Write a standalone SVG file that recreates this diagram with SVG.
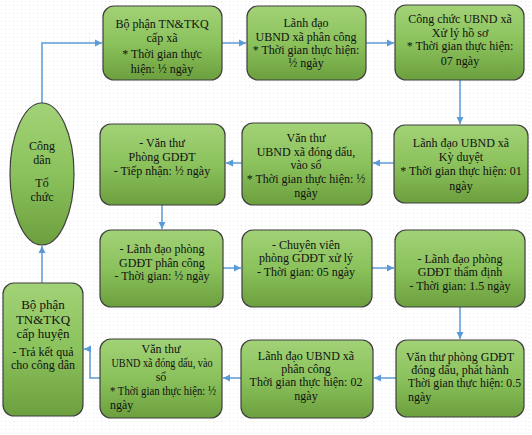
<svg xmlns="http://www.w3.org/2000/svg" width="532" height="435" viewBox="0 0 532 435">
<defs>
<pattern id="dots" width="4" height="4" patternUnits="userSpaceOnUse">
<rect width="4" height="4" fill="#ffffff"/>
<rect x="1" y="1" width="1" height="1" fill="#e4e8ec"/>
</pattern>
<linearGradient id="g" x1="0" y1="0" x2="0" y2="1">
<stop offset="0" stop-color="#a2d277"/>
<stop offset="0.5" stop-color="#8bc25c"/>
<stop offset="1" stop-color="#6c9f3e"/>
</linearGradient>
<marker id="arr" markerWidth="8" markerHeight="8" refX="7" refY="4" orient="auto" markerUnits="userSpaceOnUse">
<path d="M0,0.5 L7,4 L0,7.5 Z" fill="#5b9bd5"/>
</marker>
</defs>
<style>
.box{fill:url(#g);stroke:#3f3f3f;stroke-width:1.2}
.t{font-family:"Liberation Serif","Times New Roman",serif;font-size:12px;fill:#111;text-anchor:middle}
.l{text-anchor:start}
.c{fill:none;stroke:#5b9bd5;stroke-width:1.5;marker-end:url(#arr)}
</style>
<rect width="532" height="435" fill="url(#dots)"/>

<g id="connectors">
<path class="c" d="M42 103 V43 H102"/>
<path class="c" d="M222 43 H246"/>
<path class="c" d="M366 43 H394"/>
<path class="c" d="M460 80 V124"/>
<path class="c" d="M394 163 H373"/>
<path class="c" d="M242 163 H226"/>
<path class="c" d="M162 205 V229"/>
<path class="c" d="M223 268 H241"/>
<path class="c" d="M372 268 H394"/>
<path class="c" d="M460 307 V339"/>
<path class="c" d="M396 378 H374"/>
<path class="c" d="M241 378 H223"/>
<path class="c" d="M100 378 H90 V349 H84"/>
<path class="c" d="M42 283 V246"/>
</g>

<g id="congdan">
<ellipse class="box" cx="42" cy="174" rx="32" ry="71"/>
<text class="t" x="42" y="150">Công</text>
<text class="t" x="42" y="164">dân</text>
<text class="t" x="42" y="187">Tổ</text>
<text class="t" x="42" y="201">chức</text>
</g>

<g id="bp-xa">
<rect class="box" x="103" y="6" width="119" height="74" rx="11"/>
<text class="t" x="162" y="28">Bộ phận TN&amp;TKQ</text>
<text class="t" x="162" y="42">cấp xã</text>
<text class="t" x="162" y="58">* Thời gian thực</text>
<text class="t" x="162" y="73">hiện: ½ ngày</text>
</g>

<g id="ld-xa-pc">
<rect class="box" x="247" y="6" width="119" height="74" rx="11"/>
<text class="t" x="306" y="27">Lãnh đạo</text>
<text class="t" x="306" y="41">UBND xã phân công</text>
<text class="t" x="306" y="54">* Thời gian thực hiện:</text>
<text class="t" x="306" y="67">½ ngày</text>
</g>

<g id="cc-xa">
<rect class="box" x="395" y="5" width="129" height="75" rx="11"/>
<text class="t" x="460" y="23">Công chức UBND xã</text>
<text class="t" x="460" y="37">Xử lý hồ sơ</text>
<text class="t" x="460" y="50">* Thời gian thực hiện:</text>
<text class="t" x="460" y="65">07 ngày</text>
</g>

<g id="vt-gddt">
<rect class="box" x="100" y="124" width="125" height="81" rx="11"/>
<text class="t" x="162" y="147">- Văn thư</text>
<text class="t" x="162" y="161">Phòng GDĐT</text>
<text class="t" x="162" y="175">- Tiếp nhận: ½ ngày</text>
</g>

<g id="vt-xa-1">
<rect class="box" x="242" y="123" width="130" height="82" rx="11"/>
<text class="t" x="306" y="142">Văn thư</text>
<text class="t" x="306" y="156">UBND xã đóng dấu,</text>
<text class="t" x="306" y="169">vào sổ</text>
<text class="t" x="306" y="183">* Thời gian thực hiện: ½</text>
<text class="t" x="306" y="197">ngày</text>
</g>

<g id="ld-xa-kd">
<rect class="box" x="394" y="125" width="134" height="78" rx="11"/>
<text class="t" x="461" y="147">Lãnh đạo UBND xã</text>
<text class="t" x="461" y="161">Kỳ duyệt</text>
<text class="t" x="461" y="175">* Thời gian thực hiện: 01</text>
<text class="t" x="461" y="190">ngày</text>
</g>

<g id="ld-gddt-pc">
<rect class="box" x="100" y="230" width="123" height="77" rx="11"/>
<text class="t" x="162" y="253">- Lãnh đạo phòng</text>
<text class="t" x="162" y="267">GDĐT phân công</text>
<text class="t" x="162" y="280">- Thời gian:  ½ ngày</text>
</g>

<g id="cv-gddt">
<rect class="box" x="242" y="230" width="130" height="77" rx="11"/>
<text class="t" x="306" y="249">- Chuyên viên</text>
<text class="t" x="306" y="262">phòng GDĐT xử lý</text>
<text class="t" x="306" y="276">- Thời gian: 05 ngày</text>
</g>

<g id="ld-gddt-td">
<rect class="box" x="395" y="230" width="130" height="77" rx="11"/>
<text class="t" x="460" y="263">- Lãnh đạo phòng</text>
<text class="t" x="460" y="276">GDĐT thẩm định</text>
<text class="t" x="460" y="290">- Thời gian: 1.5 ngày</text>
</g>

<g id="vt-gddt-ph">
<rect class="box" x="396" y="340" width="128" height="77" rx="11"/>
<text class="t" x="460" y="361">Văn thư  phòng GDĐT</text>
<text class="t" x="460" y="374">đóng dấu, phát hành</text>
<text class="t l" x="408" y="387" textLength="113" lengthAdjust="spacingAndGlyphs">Thời gian thực hiện: 0.5</text>
<text class="t l" x="408" y="401">ngày</text>
</g>

<g id="ld-xa-pc2">
<rect class="box" x="241" y="340" width="132" height="78" rx="11"/>
<text class="t" x="306" y="360">Lãnh đạo UBND xã</text>
<text class="t" x="306" y="373">phân công</text>
<text class="t" x="306" y="386">Thời gian thực hiện: 02</text>
<text class="t" x="306" y="400">ngày</text>
</g>

<g id="vt-xa-2">
<rect class="box" x="100" y="339" width="122" height="79" rx="11"/>
<text class="t" x="161" y="353">Văn thư</text>
<text class="t" x="162" y="367" textLength="101" lengthAdjust="spacingAndGlyphs">UBND xã đóng dấu, vào</text>
<text class="t" x="161" y="381">sổ</text>
<text class="t l" x="110" y="395" textLength="106" lengthAdjust="spacingAndGlyphs">* Thời gian thực hiện: ½</text>
<text class="t l" x="110" y="409">ngày</text>
</g>

<g id="bp-huyen">
<rect class="box" x="3" y="283" width="80" height="133" rx="11"/>
<text class="t" x="43" y="309" style="font-size:13px">Bộ phận</text>
<text class="t" x="43" y="324" style="font-size:13px">TN&amp;TKQ</text>
<text class="t" x="43" y="338" style="font-size:13px">cấp huyện</text>
<text class="t" x="43" y="356">- Trả kết quả</text>
<text class="t" x="43" y="369">cho công dân</text>
</g>
</svg>
